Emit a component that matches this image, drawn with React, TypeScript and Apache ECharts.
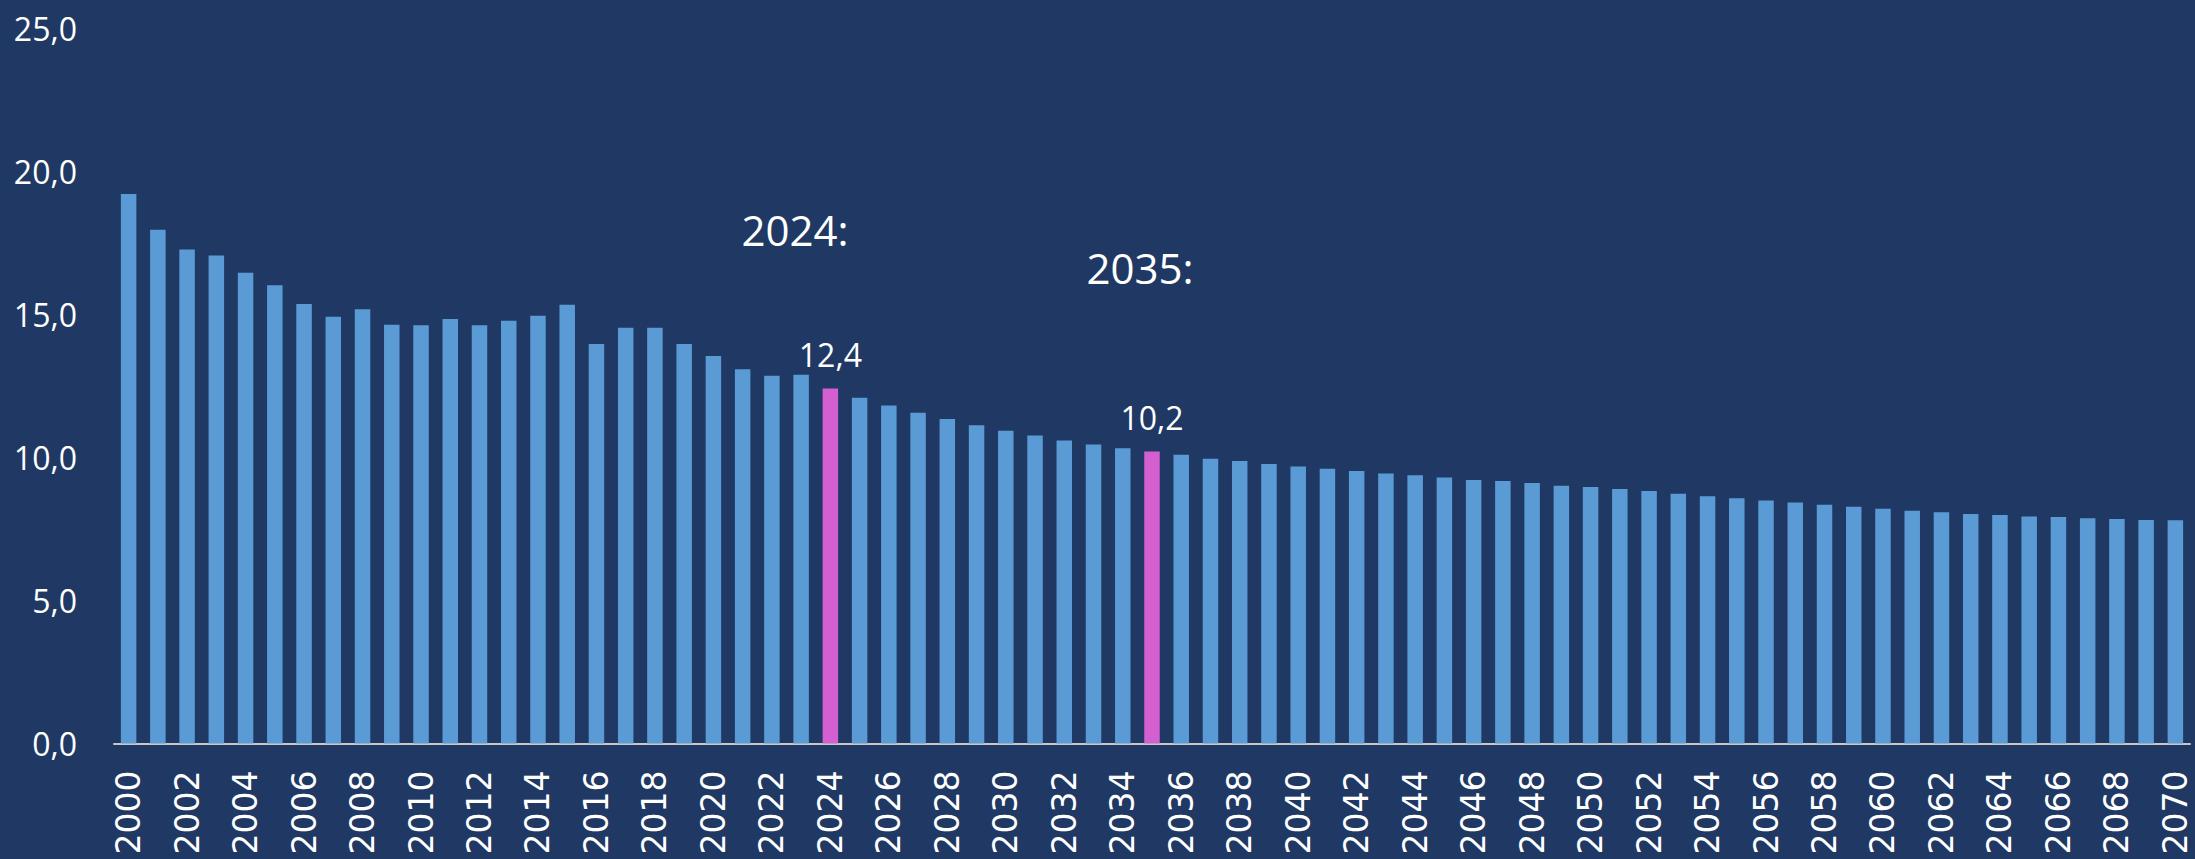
import React, { useEffect, useRef } from "react";
import * as echarts from "echarts";

const years: string[] = [];
for (let y = 2000; y <= 2070; y++) years.push(String(y));

const values: number[] = [
  19.2, 17.95, 17.26, 17.05, 16.45, 16.01, 15.36, 14.91, 15.17, 14.63,
  14.61, 14.83, 14.61, 14.77, 14.95, 15.33, 13.96, 14.53, 14.53, 13.96,
  13.54, 13.08, 12.85, 12.88, 12.4, 12.08, 11.81, 11.56, 11.34, 11.12,
  10.93, 10.76, 10.59, 10.45, 10.32, 10.2, 10.09, 9.95, 9.87, 9.77,
  9.68, 9.6, 9.52, 9.43, 9.37, 9.29, 9.21, 9.17, 9.1, 9.01,
  8.96, 8.89, 8.82, 8.73, 8.64, 8.57, 8.49, 8.42, 8.34, 8.27,
  8.2, 8.13, 8.08, 8.02, 7.98, 7.93, 7.91, 7.87, 7.84, 7.81,
  7.8,
];

const highlightYears = ["2024", "2035"];
const annotations = ["2024:", "2035:"];
const yTicks = [0, 5, 10, 15, 20, 25];

const BG = "#1F3864";
const BAR = "#5B9BD5";
const PINK = "#D35FD1";

const fmt = (v: number) => v.toFixed(1).replace(".", ",");

export default function App() {
  const ref = useRef<HTMLDivElement>(null);
  useEffect(() => {
    document.body.style.margin = "0";
    const chart = echarts.init(ref.current!, null, { renderer: "svg" });
    const data = values.map((v, i) => {
      const hl = highlightYears.includes(years[i]);
      return {
        value: v,
        itemStyle: { color: hl ? PINK : BAR },
        label: hl
          ? {
              show: true,
              position: "top",
              distance: 18,
              color: "#FFFFFF",
              fontFamily: "Open Sans",
              fontSize: 32,
              formatter: (p: any) => fmt(p.value),
            }
          : { show: false },
      };
    });
    chart.setOption({
      animation: false,
      backgroundColor: BG,
      grid: {
        left: 114,
        right: 5,
        top: 28,
        bottom: 115.5,
        containLabel: false,
        outerBoundsMode: "none",
      },
      xAxis: {
        type: "category",
        data: years,
        axisLine: { show: true, lineStyle: { color: "#C8C8C8", width: 2 } },
        axisTick: { show: false },
        axisLabel: {
          interval: 1,
          rotate: 90,
          margin: 27,
          color: "#FFFFFF",
          fontFamily: "DejaVu Sans",
          fontSize: 33,
        },
      },
      yAxis: {
        type: "value",
        min: yTicks[0],
        max: yTicks[yTicks.length - 1],
        interval: 5,
        axisLine: { show: false },
        axisTick: { show: false },
        splitLine: { show: false },
        axisLabel: {
          margin: 37,
          color: "#FFFFFF",
          fontFamily: "Open Sans",
          fontSize: 32,
          formatter: (v: number) => fmt(v),
        },
      },
      series: [
        {
          type: "bar",
          data,
          barWidth: "53%",
        },
      ],
      graphic: [
        {
          type: "text",
          x: 795,
          y: 229,
          style: {
            text: annotations[0],
            fill: "#FFFFFF",
            font: "42px 'Open Sans'",
            textAlign: "center",
            textVerticalAlign: "middle",
          },
        },
        {
          type: "text",
          x: 1140,
          y: 267,
          style: {
            text: annotations[1],
            fill: "#FFFFFF",
            font: "42px 'Open Sans'",
            textAlign: "center",
            textVerticalAlign: "middle",
          },
        },
      ],
    });
    return () => chart.dispose();
  }, []);
  return <div ref={ref} style={{ width: 2195, height: 859, background: BG }} />;
}
